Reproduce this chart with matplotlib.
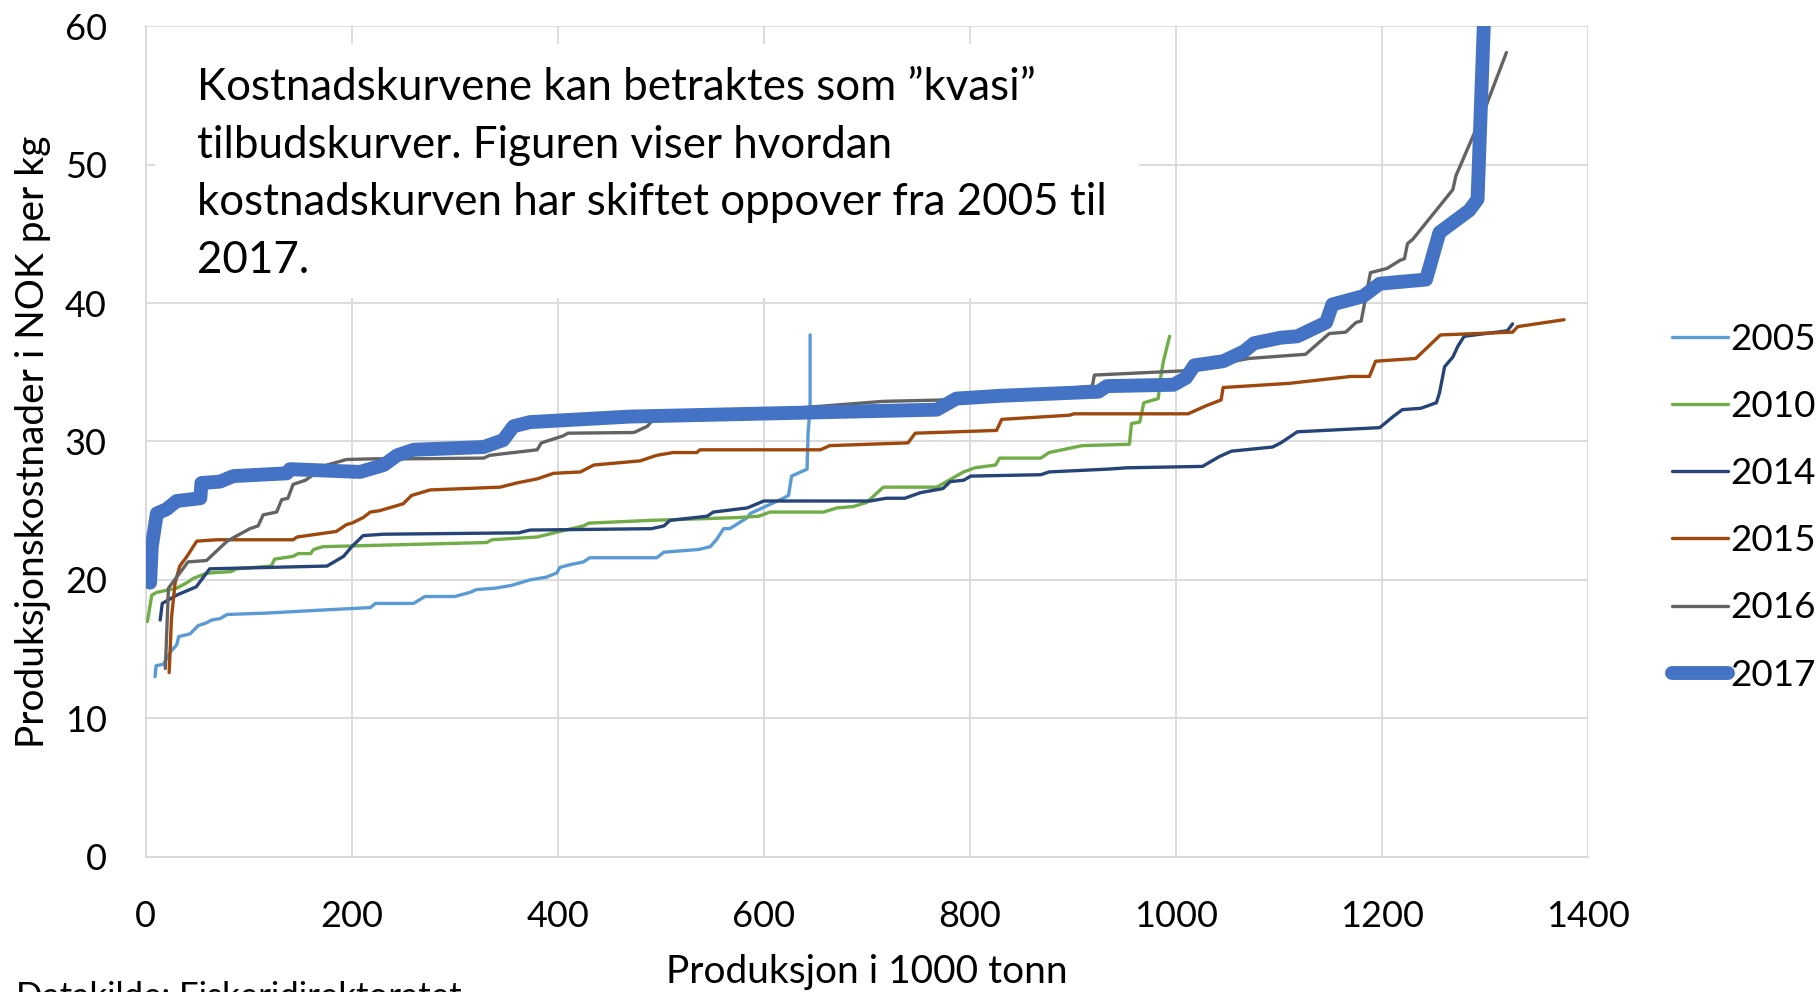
import matplotlib.pyplot as plt
from matplotlib.patches import Rectangle

# Data (x = produksjon i 1000 tonn, y = NOK per kg)
x_2005 = [9, 10, 17, 25, 30, 32, 43, 51, 59, 64, 72, 79, 117, 166, 218, 223, 260, 271, 300, 315, 321,
          339, 355, 373, 389, 399, 402, 412, 425, 431, 496, 503, 537, 548, 554, 561, 567, 584, 587,
          619, 624, 627, 642, 643, 645, 645]
y_2005 = [13.0, 13.8, 13.9, 14.9, 15.3, 15.9, 16.1, 16.7, 16.9, 17.1, 17.2, 17.5, 17.6, 17.8, 18.0,
          18.3, 18.3, 18.8, 18.8, 19.1, 19.3, 19.4, 19.6, 20.0, 20.2, 20.5, 20.9, 21.1, 21.3, 21.6,
          21.6, 22.0, 22.2, 22.4, 22.9, 23.7, 23.7, 24.5, 24.8, 25.9, 26.1, 27.5, 28.0, 30.6, 32.5, 37.7]

x_2010 = [1.6, 5.8, 10.7, 30, 40, 46, 56, 62, 83, 88, 122, 125, 143, 148, 160, 163, 172, 331, 336,
          380, 402, 425, 430, 490, 574, 595, 606, 658, 671, 687, 700, 716, 768, 794, 805, 825, 829,
          869, 877, 909, 955, 957, 965, 969, 983, 985, 988, 994]
y_2010 = [17.0, 18.9, 19.1, 19.4, 19.8, 20.1, 20.4, 20.5, 20.6, 20.8, 21.0, 21.5, 21.7, 21.9, 21.9,
          22.2, 22.4, 22.7, 22.9, 23.1, 23.5, 23.9, 24.1, 24.3, 24.5, 24.6, 24.9, 24.9, 25.2, 25.3,
          25.6, 26.7, 26.7, 27.8, 28.1, 28.3, 28.8, 28.8, 29.2, 29.7, 29.8, 31.3, 31.4, 32.8, 33.1,
          34.5, 35.8, 37.6]

x_2014 = [14, 16, 30, 49, 62, 176, 192, 200, 211, 231, 362, 373, 491, 503, 509, 545, 551, 584, 600,
          703, 719, 737, 752, 774, 781, 794, 801, 869, 877, 933, 953, 1026, 1042, 1054, 1094, 1102,
          1118, 1198, 1211, 1220, 1238, 1253, 1256, 1261, 1269, 1274, 1280, 1322, 1327]
y_2014 = [17.1, 18.3, 18.9, 19.5, 20.8, 21.0, 21.7, 22.4, 23.2, 23.3, 23.4, 23.6, 23.7, 23.9, 24.3,
          24.6, 24.9, 25.2, 25.7, 25.7, 25.9, 25.9, 26.3, 26.6, 27.1, 27.2, 27.5, 27.6, 27.8, 28.0,
          28.1, 28.2, 28.9, 29.3, 29.6, 29.9, 30.7, 31.0, 31.8, 32.3, 32.4, 32.8, 33.5, 35.4, 36.1,
          36.9, 37.6, 38.0, 38.5]

x_2015 = [22.7, 25, 28.5, 33, 40, 49.5, 69, 143, 147, 185, 195, 200, 211, 218, 227, 250, 258, 276,
          344, 360, 380, 396, 422, 435, 480, 496, 512, 535, 538, 655, 664, 740, 747, 787, 826, 831,
          897, 901, 1012, 1030, 1044, 1046, 1110, 1146, 1170, 1188, 1194, 1233, 1257, 1327, 1332, 1377]
y_2015 = [13.3, 17.3, 19.8, 21.0, 21.7, 22.8, 22.9, 22.9, 23.1, 23.5, 24.0, 24.1, 24.5, 24.9, 25.0,
          25.5, 26.1, 26.5, 26.7, 27.0, 27.3, 27.7, 27.8, 28.3, 28.6, 29.0, 29.2, 29.2, 29.4, 29.4,
          29.7, 29.9, 30.6, 30.7, 30.8, 31.6, 31.9, 32.0, 32.0, 32.6, 33.0, 33.9, 34.2, 34.5, 34.7,
          34.7, 35.8, 36.0, 37.7, 37.9, 38.3, 38.8]

x_2016 = [19, 22, 41, 59, 79, 101, 109, 114, 127, 132, 138, 143, 155, 176, 195, 224, 257, 328, 334,
          380, 384, 405, 410, 474, 487, 493, 716, 774, 919, 921, 1006, 1071, 1126, 1149, 1165, 1175,
          1180, 1189, 1205, 1218, 1222, 1225, 1230, 1269, 1272, 1301, 1321]
y_2016 = [13.6, 19.4, 21.3, 21.4, 22.8, 23.7, 23.9, 24.7, 24.9, 25.8, 25.9, 26.9, 27.2, 28.3, 28.7,
          28.75, 28.75, 28.8, 29.0, 29.4, 29.9, 30.4, 30.6, 30.65, 31.1, 31.6, 32.9, 33.0, 34.0, 34.8,
          35.1, 36.0, 36.3, 37.8, 37.9, 38.6, 38.7, 42.2, 42.5, 43.1, 43.2, 44.3, 44.6, 48.2, 49.2,
          54.2, 58.1]

x_2017 = [4.2, 5.8, 10.7, 20, 30, 53, 54, 72, 85, 137, 140, 208, 231, 244, 260, 328, 347, 357, 373,
          470, 768, 787, 829, 925, 933, 998, 1010, 1018, 1046, 1066, 1076, 1102, 1118, 1146, 1152,
          1182, 1198, 1243, 1256, 1285, 1293, 1300]
y_2017 = [19.8, 22.4, 24.8, 25.1, 25.7, 25.9, 27.0, 27.1, 27.5, 27.7, 28.0, 27.8, 28.3, 29.0, 29.4,
          29.6, 30.1, 31.1, 31.4, 31.8, 32.3, 33.1, 33.3, 33.6, 34.0, 34.1, 34.6, 35.5, 35.8, 36.5,
          37.1, 37.5, 37.6, 38.6, 39.9, 40.5, 41.4, 41.7, 45.1, 46.7, 47.5, 62.0]

years = ["2005", "2010", "2014", "2015", "2016", "2017"]
xs = [x_2005, x_2010, x_2014, x_2015, x_2016, x_2017]
ys = [y_2005, y_2010, y_2014, y_2015, y_2016, y_2017]
colors = ["#5B9BD5", "#70AD47", "#264478", "#9E480E", "#636363", "#4472C4"]
widths = [2.4, 2.4, 2.4, 2.4, 2.4, 10.0]

note = ("Kostnadskurvene kan betraktes som \u201dkvasi\u201d\n"
        "tilbudskurver. Figuren viser hvordan\n"
        "kostnadskurven har skiftet oppover fra 2005 til\n"
        "2017.")

plt.rcParams['font.family'] = ['Lato', 'DejaVu Sans']

fig = plt.figure(figsize=(18.2, 9.92), dpi=100)
ax = fig.add_axes([0.0801, 0.1364, 0.7923, 0.8371])

for x, y, c, w, lab in zip(xs, ys, colors, widths, years):
    ax.plot(x, y, color=c, linewidth=w, label=lab, zorder=3,
            solid_capstyle='round', solid_joinstyle='round')

ax.set_xlim(0, 1400)
ax.set_ylim(0, 60)
ax.set_xticks(range(0, 1401, 200))
ax.set_yticks(range(0, 61, 10))
ax.grid(True, color="#D9D9D9", linewidth=1.3)
ax.set_axisbelow(True)
for s in ["top", "right"]:
    ax.spines[s].set_visible(False)
for s in ["left", "bottom"]:
    ax.spines[s].set_color("#D9D9D9")
    ax.spines[s].set_linewidth(1.3)
ax.tick_params(length=0, labelsize=26)
ax.tick_params(axis='x', pad=31)
ax.tick_params(axis='y', pad=28)

ax.set_xlabel("Produksjon i 1000 tonn", fontsize=28)
ax.xaxis.set_label_coords(0.5, -0.117)
ax.set_ylabel("Produksjonskostnader i NOK per kg", fontsize=28)
ax.yaxis.set_label_coords(-0.066, 0.5)

# white text box on top of the grid
ax.add_patch(Rectangle((0.0065, 0.673), 0.682, 0.306, transform=ax.transAxes,
                       facecolor="white", edgecolor="none", zorder=2))
ax.text(0.0356, 0.822, note, transform=ax.transAxes, fontsize=31.6, va="center",
        ha="left", linespacing=1.5, zorder=4)

ax.legend(loc="center left", bbox_to_anchor=(1.0485, 0.421), frameon=False, fontsize=26.5,
          handlelength=1.52, handletextpad=0.05, labelspacing=0.93, borderaxespad=0)

fig.text(0.009, -0.005, "Datakilde: Fiskeridirektoratet", fontsize=25, ha="left", va="center")

fig.savefig("out.png", dpi=100)
